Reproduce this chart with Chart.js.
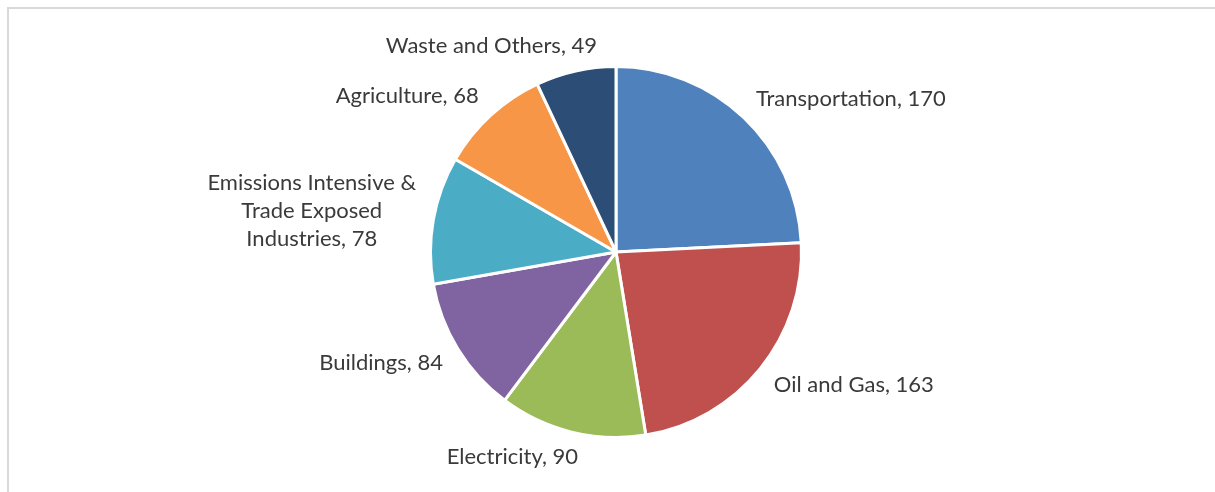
<!DOCTYPE html>
<html>
<head>
<meta charset="utf-8">
<script src="https://cdn.jsdelivr.net/npm/chart.js@4.4.1/dist/chart.umd.min.js"></script>
<style>
  body { margin: 0; background: #fff; }
  #wrap { width: 1215px; height: 492px; position: relative; }
</style>
</head>
<body>
<div id="wrap"><canvas id="myChartEmisiones"></canvas></div>
<script>
// Datos
var categorias = ['Transportation', 'Oil and Gas', 'Electricity', 'Buildings',
    'Emissions Intensive & Trade Exposed Industries', 'Agriculture', 'Waste and Others'];
var valores = [170, 163, 90, 84, 78, 68, 49];
var colores = ['#4F81BD', '#C0504D', '#9BBB59', '#8064A2', '#4BACC6', '#F79646', '#2C4D75'];

// Marco gris claro (arriba e izquierda)
var marcoPlugin = {
    id: 'marco',
    beforeDraw: function (chart) {
        var ctx = chart.ctx;
        ctx.save();
        ctx.fillStyle = '#d9d9d9';
        ctx.fillRect(7, 7, chart.width - 7, 2);
        ctx.fillRect(7, 7, 2, chart.height - 7);
        ctx.restore();
    }
};

// Etiquetas "Categoria, valor" fuera de cada porcion
var etiquetasPlugin = {
    id: 'etiquetas',
    afterDatasetsDraw: function (chart) {
        var ctx = chart.ctx;
        var meta = chart.getDatasetMeta(0);
        var lh = 28;
        ctx.save();
        ctx.font = '22px Lato';
        ctx.fillStyle = '#3a3a3a';
        ctx.textAlign = 'center';
        ctx.textBaseline = 'middle';
        meta.data.forEach(function (arc, i) {
            var p = arc.getProps(['x', 'y', 'startAngle', 'endAngle', 'outerRadius'], true);
            var mid = (p.startAngle + p.endAngle) / 2;
            var dx = Math.cos(mid), dy = Math.sin(mid);
            var R = p.outerRadius - 1.5 + 19;
            var px = p.x + dx * R, py = p.y + dy * R;

            // partir el texto en lineas
            var palabras = (categorias[i] + ', ' + valores[i]).split(' ');
            var lineas = [], actual = '';
            palabras.forEach(function (w) {
                var prueba = actual ? actual + ' ' + w : w;
                if (ctx.measureText(prueba).width > 225 && actual) {
                    lineas.push(actual);
                    actual = w;
                } else {
                    actual = prueba;
                }
            });
            lineas.push(actual);

            var w = 0;
            lineas.forEach(function (l) { w = Math.max(w, ctx.measureText(l).width); });
            var h = lineas.length * lh - 11;
            var kx = Math.max(-1, Math.min(1, dx * 3.5));
            var ky = Math.max(-1, Math.min(1, dy));
            var left = px - w * (1 - kx) / 2;
            var top = py - h * (1 - ky) / 2;
            var cx = left + w / 2;
            var cy = top + h / 2 - (lineas.length - 1) * lh / 2;
            lineas.forEach(function (l, j) {
                ctx.fillText(l, cx, cy + j * lh);
            });
        });
        ctx.restore();
    }
};

var ctx = document.getElementById('myChartEmisiones').getContext('2d');
window.myChart = new Chart(ctx, {
    type: 'pie',
    data: {
        labels: categorias,
        datasets: [{
            data: valores,
            backgroundColor: colores,
            borderColor: '#ffffff',
            borderWidth: 3
        }]
    },
    options: {
        responsive: true,
        maintainAspectRatio: false,
        animation: false,
        layout: {
            padding: { top: 65, bottom: 53, left: 400, right: 383 }
        },
        plugins: {
            legend: { display: false },
            tooltip: { enabled: false }
        }
    },
    plugins: [marcoPlugin, etiquetasPlugin]
});
</script>
</body>
</html>
